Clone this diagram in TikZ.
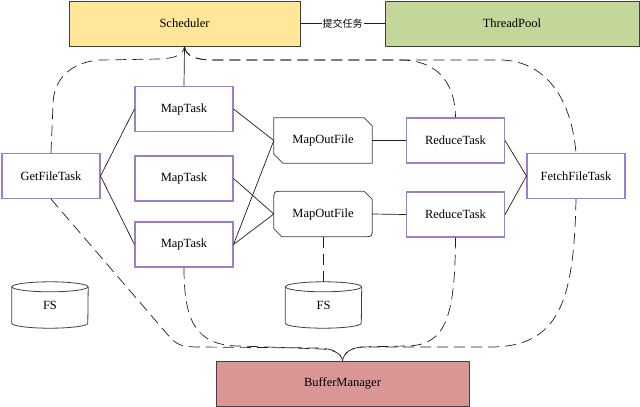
\documentclass[tikz,border=0pt]{standalone}
\usepackage{fontspec}
\setmainfont{Liberation Serif}
\newfontfamily\cjkfont{Noto Sans CJK SC}
\definecolor{schedfill}{RGB}{255,230,153}
\definecolor{poolfill}{RGB}{196,215,155}
\definecolor{bufffill}{RGB}{217,150,148}
\definecolor{taskpurple}{RGB}{160,125,200}
\definecolor{boxgray}{RGB}{64,64,64}
\definecolor{linegray}{RGB}{30,30,30}
\begin{document}
\begin{tikzpicture}[x=1pt,y=-1pt,
  txt/.style={font=\fontsize{12.5}{14}\selectfont},
  bigbox/.style={txt, draw=boxgray, line width=0.8pt, minimum height=45pt, inner sep=0pt},
  taskbox/.style={txt, draw=taskpurple, line width=1.1pt, fill=white, minimum width=98pt, minimum height=45pt, inner sep=0pt},
  holder/.style={txt, minimum width=98pt, minimum height=45pt, inner sep=0pt},
  fsholder/.style={txt, minimum width=76pt, minimum height=46pt, inner sep=0pt},
  outline/.style={draw=boxgray, line width=0.8pt},
  conn/.style={draw=linegray, line width=0.7pt},
  dashconn/.style={conn, dash pattern=on 11pt off 6pt}]
\useasboundingbox (0,0) rectangle (640,407);

% main boxes
\node[bigbox, fill=schedfill, minimum width=231pt] (sch) at (184.5,23.5) {Scheduler};
\node[bigbox, fill=poolfill, minimum width=254pt] (tp) at (512,23.5) {ThreadPool};
\node[bigbox, fill=bufffill, minimum width=253pt] (bm) at (342.5,383.5) {BufferManager};

% tasks
\node[taskbox] (gft) at (51,176) {GetFileTask};
\node[taskbox] (mt1) at (184,109) {MapTask};
\node[taskbox] (mt2) at (184,178.5) {MapTask};
\node[taskbox] (mt3) at (184,244.5) {MapTask};
\node[taskbox] (rt1) at (455.5,140.5) {ReduceTask};
\node[taskbox] (rt2) at (455.5,214.5) {ReduceTask};
\node[taskbox] (ff) at (576,176) {FetchFileTask};

% map out files
\node[holder] (mo1) at (323,140.5) {MapOutFile};
\node[holder] (mo2) at (323,214) {MapOutFile};
\draw[outline] (mo1.north west) -- ([xshift=-8pt]mo1.north east) -- ([yshift=-8pt]mo1.north east)
  -- (mo1.south east) -- ([xshift=9pt]mo1.south west) -- ([yshift=9pt]mo1.south west) -- cycle;
\draw[outline] ([yshift=-8pt]mo2.north west) .. controls (mo2.north west) .. ([xshift=8pt]mo2.north west)
  -- ([xshift=-8pt]mo2.north east) -- ([yshift=-8pt]mo2.north east)
  -- ([yshift=8pt]mo2.south east) .. controls (mo2.south east) .. ([xshift=-8pt]mo2.south east)
  -- ([xshift=8pt]mo2.south west) -- ([yshift=8pt]mo2.south west) -- cycle;

% file systems
\node[fsholder] (fs1) at (50,305) {FS};
\node[fsholder] (fs2) at (323.5,305) {FS};
\foreach \f in {fs1,fs2}{
  \draw[outline] ([yshift=-5pt]\f.north) ellipse [x radius=38pt, y radius=5pt];
  \draw[outline] ([yshift=-5pt]\f.north west) -- ([yshift=5pt]\f.south west)
    arc[start angle=180, end angle=360, x radius=38pt, y radius=5pt] -- ([yshift=-5pt]\f.north east);
}

% solid connectors
\draw[conn] (sch.south) -- (mt1.north);
\draw[conn] (sch.east) -- node[fill=white, inner sep=1pt, font=\cjkfont\fontsize{10}{12}\selectfont] {提交任务} (tp.west);
\draw[conn] (gft.east) -- (mt1.west);
\draw[conn] (gft.east) -- (mt3.west);
\draw[conn] (mt1.east) -- (mo1.west);
\draw[conn] (mt3.east) -- (mo1.west);
\draw[conn] (mt2.east) -- (mo2.west);
\draw[conn] (mt3.east) -- (mo2.west);
\draw[conn] (mo1.east) -- (rt1.west);
\draw[conn] (mo2.east) -- (rt2.west);
\draw[conn] (rt1.east) -- (ff.west);
\draw[conn] (rt2.east) -- (ff.west);

% dashed connectors to Scheduler
\draw[dashconn] (gft.north) -- (53,105) .. controls (53,80) and (70,62) .. (100,60)
  -- (160,59) .. controls (176,58) and (183,55) .. (sch.south);
\draw[dashconn] (sch.south) .. controls (186,55) and (192,59) .. (210,60)
  -- (400,60) .. controls (435,60) and (455,80) .. (rt1.north);
\draw[dashconn] (sch.south) .. controls (186,55) and (192,59) .. (210,60)
  -- (500,60) .. controls (535,60) and (570,85) .. (ff.north);

% dashed connectors to BufferManager
\draw[dashconn] (gft.south) -- (168,335) .. controls (176,345) and (182,347) .. (200,347)
  -- (320,348) .. controls (334,349) and (341,353) .. (bm.north);
\draw[dashconn] (mt3.south) .. controls (184,320) and (195,346) .. (240,346)
  -- (322,349) .. controls (334,350) and (341,353) .. (bm.north);
\draw[dashconn] (rt2.south) .. controls (455,320) and (445,346) .. (405,346)
  -- (362,347) .. controls (350,348) and (344,353) .. (bm.north);
\draw[dashconn] (ff.south) .. controls (574,300) and (560,347) .. (490,347)
  -- (362,347) .. controls (350,348) and (344,353) .. (bm.north);

% map out file to FS
\draw[dashconn] (mo2.south) -- (mo2.south |- fs2.north);
\end{tikzpicture}
\end{document}
